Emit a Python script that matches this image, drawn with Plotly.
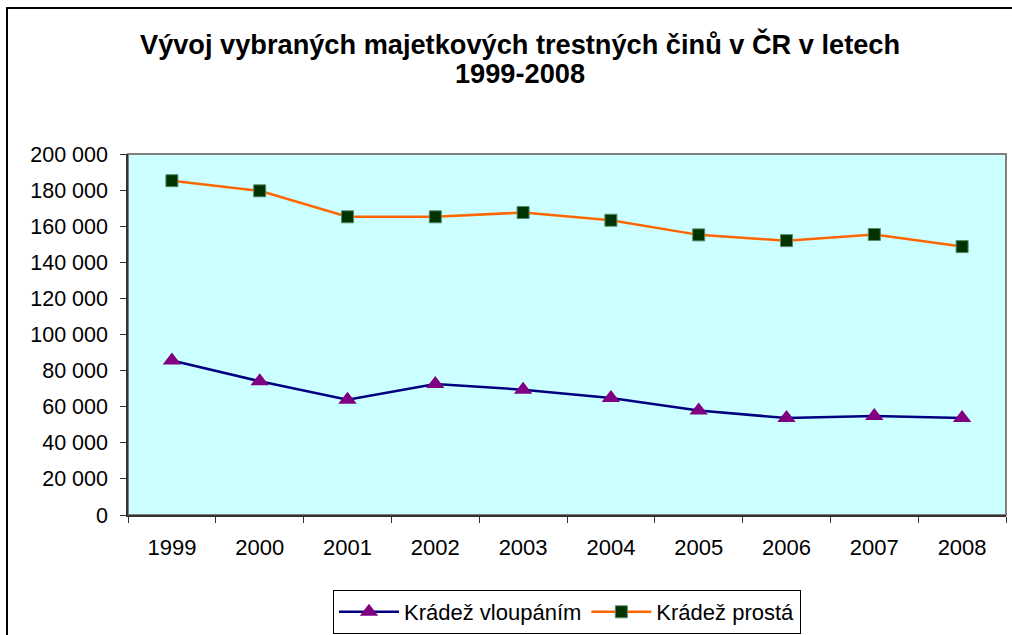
import plotly.graph_objects as go

years = ["1999", "2000", "2001", "2002", "2003", "2004", "2005", "2006", "2007", "2008"]
kradez_vloupanim = [85600, 74100, 63900, 72600, 69400, 64800, 57900, 53700, 54800, 53700]
kradez_prosta = [185200, 179600, 165200, 165200, 167600, 163300, 155200, 152000, 155400, 148700]
series_names = ["Krádež vloupáním", "Krádež prostá"]
title_lines = ["Vývoj vybraných majetkových trestných činů v ČR v letech", "1999-2008"]

FONT = "Liberation Sans, Arial, sans-serif"

fig = go.Figure()
fig.add_trace(go.Scatter(
    x=years, y=kradez_vloupanim, name=series_names[0], mode="lines+markers",
    line=dict(color="#000080", width=2.5),
    marker=dict(symbol="triangle-up", size=16, color="#800080", line=dict(width=0)),
))
fig.add_trace(go.Scatter(
    x=years, y=kradez_prosta, name=series_names[1], mode="lines+markers",
    line=dict(color="#FF6600", width=2.5),
    marker=dict(symbol="square", size=12, color="#003300", line=dict(width=1, color="#5a8a6a")),
))

W, H = 1012, 635
L, R, T, B = 128, 6, 154, 120
pw, ph = W - L - R, H - T - B

def px2x(px):
    return (px - L) / pw

def px2y(py):
    return (H - B - py) / ph

annotations = [
    dict(text="<b>%s</b>" % title_lines[0], xref="paper", yref="paper", x=px2x(520), y=px2y(44),
         xanchor="center", yanchor="middle", showarrow=False,
         font=dict(family=FONT, size=27.2, color="black")),
    dict(text="<b>%s</b>" % title_lines[1], xref="paper", yref="paper", x=px2x(520), y=px2y(74),
         xanchor="center", yanchor="middle", showarrow=False,
         font=dict(family=FONT, size=27.2, color="black")),
]

fig.update_layout(
    width=W, height=H,
    margin=dict(l=L, r=R, t=T, b=B, autoexpand=False),
    paper_bgcolor="white",
    plot_bgcolor="#CCFFFF",
    separators=", ",
    font=dict(family=FONT, size=21, color="black"),
    annotations=annotations,
    showlegend=True,
    legend=dict(orientation="h", x=px2x(567), xanchor="center", y=px2y(590), yanchor="top",
                bgcolor="white", bordercolor="black", borderwidth=1,
                font=dict(family=FONT, size=22), itemwidth=60, tracegroupgap=0),
    shapes=[
        dict(type="rect", xref="paper", yref="paper", x0=0, x1=1, y0=0, y1=1,
             line=dict(color="#808080", width=2), layer="below"),
        dict(type="rect", xref="paper", yref="paper", x0=px2x(7), x1=px2x(1100), y0=px2y(700), y1=px2y(8),
             line=dict(color="black", width=2), layer="below"),
    ],
)
fig.update_xaxes(type="category", range=[-0.5, len(years) - 0.5], showgrid=False, showline=True,
                 linecolor="#333333", linewidth=1.5,
                 ticks="outside", tickson="boundaries", ticklen=6, tickcolor="#333333",
                 tickfont=dict(family=FONT, size=22), ticklabelstandoff=12, automargin=False)
fig.update_yaxes(range=[0, 200000], dtick=20000, tickformat=",d", showgrid=False, showline=True,
                 linecolor="#333333", linewidth=1.5, ticks="outside", ticklen=6, tickcolor="#333333",
                 tickfont=dict(family=FONT, size=21.5), ticklabelstandoff=8, zeroline=False, automargin=False)

fig.write_html("out.html", config={"displayModeBar": False},
               post_script="document.body.style.margin='0';document.body.style.overflow='hidden';")
